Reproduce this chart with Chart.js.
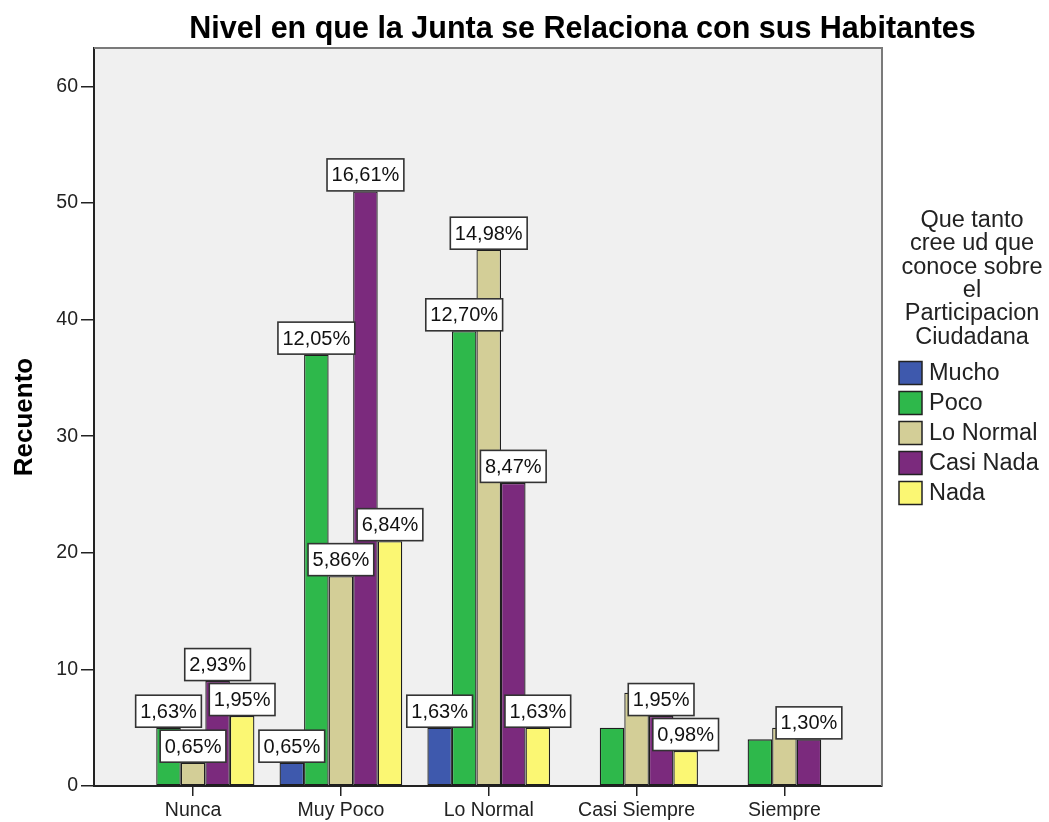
<!DOCTYPE html>
<html><head><meta charset="utf-8">
<script src="https://cdn.jsdelivr.net/npm/chart.js@4/dist/chart.umd.min.js"></script>
<style>html,body{margin:0;padding:0;background:#fff;}#wrap{width:1049px;height:822px;position:relative;}</style>
</head><body><div id="wrap"><canvas id="c"></canvas></div>
<script>
// ---- data ----
const categories = ['Nunca', 'Muy Poco', 'Lo Normal', 'Casi Siempre', 'Siempre'];
const seriesNames = ['Mucho', 'Poco', 'Lo Normal', 'Casi Nada', 'Nada'];
const mucho    = [0, 2, 5, 0, 0];
const poco     = [5, 37, 39, 5, 4];
const loNormal = [2, 18, 46, 8, 5];
const casiNada = [9, 51, 26, 6, 4];
const nada     = [6, 21, 5, 3, 0];
// which percentage labels are visible in the reference (1 = shown)
const showMucho    = [0, 1, 1, 0, 0];
const showPoco     = [1, 1, 1, 0, 0];
const showLoNormal = [1, 1, 1, 0, 0];
const showCasiNada = [1, 1, 1, 1, 1];
const showNada     = [1, 1, 1, 1, 0];
const yTicks = [0, 10, 20, 30, 40, 50, 60];
const chartTitle = 'Nivel en que la Junta se Relaciona con sus Habitantes';
const yTitle = 'Recuento';
const legendTitle = ['Que tanto', 'cree ud que', 'conoce sobre', 'el', 'Participacion', 'Ciudadana'];

// ---- styling ----
const FONT = "'Liberation Sans', Arial, sans-serif";
const colors = ['#3E59AD', '#2EB84B', '#D3CE97', '#7B2A7D', '#FBF773'];
const series = [mucho, poco, loNormal, casiNada, nada];
const shows = [showMucho, showPoco, showLoNormal, showCasiNada, showNada];
const total = series.flat().reduce((a, b) => a + b, 0);

const datasets = series.map((vals, i) => ({
  label: seriesNames[i],
  data: vals.map((v, j) => ({ x: j, y: v === 0 ? null : v })),
  backgroundColor: colors[i],
  borderColor: '#1e1e1e',
  borderWidth: 1.3,
  borderSkipped: false,
  categoryPercentage: 0.83,
  barPercentage: 1.0
}));

const spssPlugin = {
  id: 'spss',
  beforeDraw(chart) {
    const { ctx, chartArea: a } = chart;
    ctx.save();
    ctx.fillStyle = '#F0F0F0';
    ctx.fillRect(a.left, a.top, a.right - a.left, a.bottom - a.top);
    ctx.restore();
  },
  afterDatasetsDraw(chart) {
    const ctx = chart.ctx;
    ctx.save();
    ctx.font = '20px ' + FONT;
    chart.data.datasets.forEach((ds, i) => {
      const meta = chart.getDatasetMeta(i);
      meta.data.forEach((el, j) => {
        const v = series[i][j];
        if (!shows[i][j] || !v) return;
        const txt = (v / total * 100).toFixed(2).replace('.', ',') + '%';
        const w = ctx.measureText(txt).width + 9, h = 32;
        const x = el.x - w / 2, y = el.y - h - 0.5;
        ctx.fillStyle = '#fff';
        ctx.fillRect(x, y, w, h);
        ctx.strokeStyle = '#333';
        ctx.lineWidth = 1.6;
        ctx.strokeRect(x, y, w, h);
        ctx.fillStyle = '#111';
        ctx.textAlign = 'center';
        ctx.textBaseline = 'middle';
        ctx.fillText(txt, el.x, y + h / 2 + 1);
      });
    });
    ctx.restore();
  },
  afterDraw(chart) {
    const { ctx, chartArea: a } = chart;
    ctx.save();
    // top and right frame
    ctx.strokeStyle = '#7a7a7a';
    ctx.lineWidth = 2;
    ctx.beginPath();
    ctx.moveTo(a.left, a.top);
    ctx.lineTo(a.right, a.top);
    ctx.lineTo(a.right, a.bottom);
    ctx.stroke();
    // title
    ctx.fillStyle = '#000';
    ctx.font = 'bold 30.5px ' + FONT;
    ctx.textAlign = 'center';
    ctx.textBaseline = 'alphabetic';
    ctx.fillText(chartTitle, 582.5, 38);
    // legend title
    ctx.fillStyle = '#222';
    ctx.font = '23.5px ' + FONT;
    legendTitle.forEach((t, k) => ctx.fillText(t, 972, 227 + k * 23.3));
    // legend items
    ctx.textAlign = 'left';
    ctx.textBaseline = 'middle';
    chart.data.datasets.forEach((ds, k) => {
      const cy = 373 + k * 30;
      ctx.fillStyle = ds.backgroundColor;
      ctx.fillRect(899, cy - 11.5, 23, 23);
      ctx.strokeStyle = '#222';
      ctx.lineWidth = 1.5;
      ctx.strokeRect(899, cy - 11.5, 23, 23);
      ctx.fillStyle = '#222';
      ctx.fillText(ds.label, 929, cy + 1);
    });
    ctx.restore();
  }
};

new Chart(document.getElementById('c'), {
  type: 'bar',
  data: { datasets },
  options: {
    responsive: true,
    maintainAspectRatio: false,
    animation: false,
    layout: { padding: { top: 48, right: 167, bottom: 0, left: 0 } },
    plugins: { legend: { display: false }, title: { display: false }, tooltip: { enabled: false } },
    scales: {
      x: {
        type: 'linear',
        min: -0.67,
        max: 4.66,
        offset: false,
        afterBuildTicks: s => { s.ticks = categories.map((c, i) => ({ value: i })); },
        afterFit: s => { s.height = 36; },
        ticks: {
          callback: v => categories[v],
          font: { family: FONT, size: 19.5 },
          color: '#222',
          padding: 3,
          maxRotation: 0,
          autoSkip: false
        },
        grid: { offset: false, drawOnChartArea: false, drawTicks: true, tickLength: 10, color: '#222', lineWidth: 1.5 },
        border: { display: true, color: '#222', width: 2 }
      },
      y: {
        min: 0,
        max: 63.3,
        afterBuildTicks: s => { s.ticks = yTicks.map(v => ({ value: v })); },
        afterFit: s => { s.width = 94; },
        ticks: { font: { family: FONT, size: 19.5 }, color: '#222', padding: 3 },
        grid: { drawOnChartArea: false, drawTicks: true, tickLength: 13, color: '#222', lineWidth: 1.5 },
        border: { display: true, color: '#222', width: 2 },
        title: {
          display: true,
          text: yTitle,
          color: '#000',
          font: { family: FONT, size: 26, weight: 'bold' },
          padding: { top: 9, bottom: 0 }
        }
      }
    }
  },
  plugins: [spssPlugin]
});
</script>
</body></html>
